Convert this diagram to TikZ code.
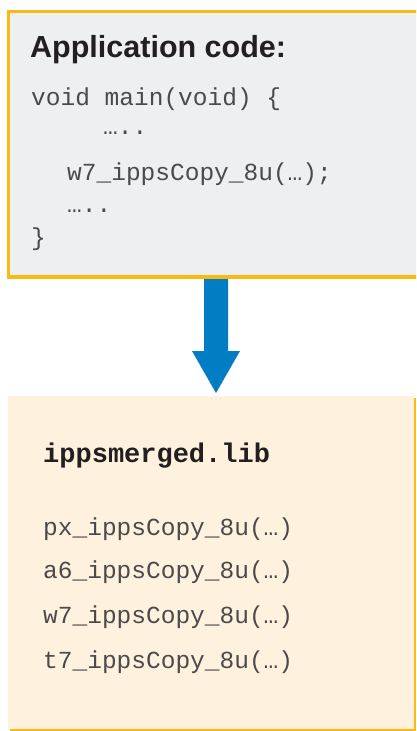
\documentclass[tikz,border=0pt]{standalone}
\usepackage{fontspec}
\setmainfont{Liberation Sans}
\newfontfamily\codefont{Liberation Mono}
\usetikzlibrary{positioning}
\definecolor{frameorange}{HTML}{FDB913}
\definecolor{appfill}{HTML}{EEEFF1}
\definecolor{libfill}{HTML}{FEF1DE}
\definecolor{arrowblue}{HTML}{007DC3}
\definecolor{headtext}{HTML}{231F20}
\definecolor{codetext}{HTML}{4A4A4A}
\tikzset{
  heading/.style={anchor=base west, inner sep=0pt, text=headtext,
    font=\fontsize{30.5}{30.5}\selectfont\bfseries},
  codeline/.style={anchor=base west, inner sep=0pt, text=codetext,
    font=\codefont\fontsize{24.5}{24.5}\selectfont},
  libname/.style={anchor=base west, inner sep=0pt, text=headtext,
    font=\codefont\fontsize{27}{27}\selectfont\bfseries},
}
\begin{document}
\begin{tikzpicture}[x=1pt,y=-1pt]
\useasboundingbox (0,0) rectangle (416,731);
\begin{scope}
\clip (0,0) rectangle (416,731);
% application code panel
\draw[frameorange, line width=3.5pt, fill=appfill] (8.5,11.5) rectangle (430,277);
% library panel with offset orange edge
\fill[frameorange] (10,398) rectangle (416,731);
\fill[libfill] (8,396) rectangle (414,729);
\end{scope}

% down arrow from the code panel to the library
\coordinate (atop) at (216,279);
\coordinate (atip) at (216,393);
\fill[arrowblue] (204,279) -- (228,279) -- (228,351) -- (240,351)
  -- (atip) -- (192,351) -- (204,351) -- cycle;

% application code text
\node[heading] (apphead) at (30,57) {Application code:};
\node[codeline] (c1) at (31,105) {void main(void) \{};
\node[codeline] (c2) at (103,134) {…..};
\node[codeline] (c3) at (67,180) {w7\_ippsCopy\_8u(…);};
\node[codeline] (c4) at (67,212) {…..};
\node[codeline] (c5) at (31,245) {\}};

% library contents
\node[libname] (lib) at (43,462) {ippsmerged.lib};
\node[codeline] (l1) at (43,535) {px\_ippsCopy\_8u(…)};
\node[codeline] (l2) at (43,578) {a6\_ippsCopy\_8u(…)};
\node[codeline] (l3) at (43,623) {w7\_ippsCopy\_8u(…)};
\node[codeline] (l4) at (43,668) {t7\_ippsCopy\_8u(…)};
\end{tikzpicture}
\end{document}
